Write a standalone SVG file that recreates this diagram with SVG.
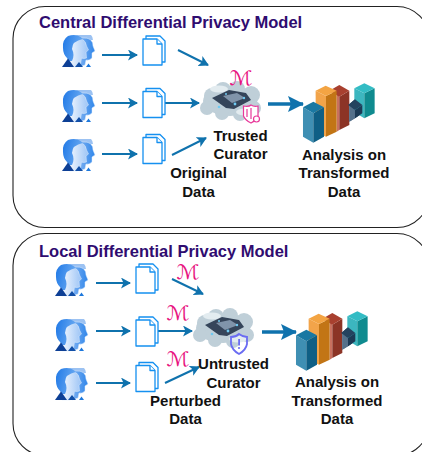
<svg xmlns="http://www.w3.org/2000/svg" width="422" height="452" viewBox="0 0 422 452">
<style>
.panel{fill:#fff;stroke:#222;stroke-width:1.1}
.title{font:bold 16.500px "Liberation Sans",Arial,sans-serif;fill:#2f0c70}
.lbl{font:bold 15px "Liberation Sans",Arial,sans-serif;fill:#111;text-anchor:middle}
.mm{font:italic 20px "DejaVu Serif","DejaVu Sans",serif;fill:#e8147f;text-anchor:middle}
.arr{stroke:#0f72ad;stroke-width:2;fill:none;marker-end:url(#ah)}
.arrb{stroke:#0f72ad;stroke-width:3.6;fill:none;marker-end:url(#ahb)}
.doc{fill:#fff;stroke:#1590f0;stroke-width:1.3;stroke-linejoin:round}
</style>
<defs>
<marker id="ah" markerUnits="userSpaceOnUse" markerWidth="12" markerHeight="12" refX="9" refY="5.500" orient="auto"><path d="M0 0L10 5.500L0 11L2.500 5.500Z" fill="#0f72ad"/></marker>
<marker id="ahb" markerUnits="userSpaceOnUse" markerWidth="18" markerHeight="18" refX="15" refY="8" orient="auto"><path d="M0 0L16 8L0 16L3 8Z" fill="#0f72ad"/></marker>
<linearGradient id="pa" x1="0" x2="1" y1="0" y2=".3"><stop offset="0" stop-color="#1f78e6"/><stop offset="1" stop-color="#6aaaf2"/></linearGradient>
<linearGradient id="pb" x1="0" x2="1" y1="0" y2="0"><stop offset="0" stop-color="#f2f7fe"/><stop offset="1" stop-color="#9cc4f6"/></linearGradient>
<linearGradient id="pc" x1="0" x2="1" y1="0" y2="0"><stop offset="0" stop-color="#8ab8f3"/><stop offset="1" stop-color="#2f86ea"/></linearGradient>
<filter id="soft" x="-10%" y="-10%" width="120%" height="120%"><feGaussianBlur stdDeviation=".6"/></filter>
<g id="person">
<path d="M14 1H29Q31 3 31 6L18 6Z" fill="#9cc2f2"/>
<path d="M20 4Q31 3 31 12L33 17L30 19L30 24Q27 27 24 26L23 31L17 33L14 4Z" fill="url(#pc)" stroke="#dfecfd" stroke-width=".5"/>
<path d="M11 5Q23 2 24.500 12L26.500 16L24 18L24.500 24Q21 25 19.500 24L18.500 30L15 33H7L8 12Z" fill="url(#pb)" stroke="#dfecfd" stroke-width=".5"/>
<path d="M6 2Q0 6 1 14Q1 20 5 24L7 27L10 27Q13 21 10 15Q10 7 21 5Q15 -1 6 2Z" fill="url(#pa)"/>
<path d="M0 33L6 24.500L12 33Z" fill="#0d3f95"/><path d="M13 33L17 28L21 33Z" fill="#114fa8"/><path d="M24 33L26.500 29.500L29 33Z" fill="#1d78dc"/>
</g>
<g id="docs">
<path class="doc" d="M3 0H17L22 5V26H3Z"/>
<path class="doc" d="M0 3H14L19 8V29H0Z"/>
<path class="doc" d="M14 3V8H19" fill="none"/>
</g>
<g id="cloud">
<g filter="url(#soft)" fill="#bfcfd8">
<ellipse cx="31" cy="20" rx="27" ry="15"/><circle cx="13" cy="15" r="8"/><circle cx="24" cy="9" r="8"/><circle cx="38" cy="8" r="8"/><circle cx="52" cy="14" r="9"/><circle cx="8" cy="27" r="7"/><circle cx="23" cy="32" r="7"/><circle cx="41" cy="33" r="7"/><circle cx="55" cy="27" r="7"/>
</g>
<ellipse cx="20" cy="8" rx="9" ry="3.500" fill="#e3ecf0" filter="url(#soft)"/>
<ellipse cx="46" cy="31" rx="9" ry="3.500" fill="#e3ecf0" filter="url(#soft)"/>
<path d="M13 17L30 9L47 12L52 19L35 28L27 27Z" fill="#34445a" filter="url(#soft)"/>
<path d="M24 15L38 12L46 17L33 22Z" fill="#8094aa" filter="url(#soft)"/>
<g fill="#6fcaf2"><circle cx="36" cy="23" r="1.400"/><circle cx="45" cy="17" r="1.200"/><circle cx="27" cy="13" r="1"/><circle cx="20" cy="26" r="1.300"/></g>
</g>
<g id="chart">
<path d="M470 122H478V240L470 245Z" fill="#c9705f"/>
<path d="M478 140L508 122V225L478 240Z" fill="#8c3426"/><path d="M448 122L478 105L508 122L478 140Z" fill="#a8402f"/>
<path d="M407 122L438 138V260L407 245Z" fill="#f2a44a"/><path d="M438 138L470 122V245L438 260Z" fill="#c27515"/><path d="M407 122L437 107L470 122L438 138Z" fill="#f3a443"/>
<path d="M369 172L400 190V278L369 260Z" fill="#3f8fb3"/><path d="M400 190L432 172V260L400 278Z" fill="#0f5f85"/><path d="M369 172L400 155L432 172L400 190Z" fill="#1a78a2"/>
<path d="M508 165L525 180V205L508 215Z" fill="#55708a"/><path d="M525 180L547 165V190L525 205Z" fill="#1d3a55"/><path d="M505 165L525 148L547 165L525 180Z" fill="#24435f"/>
<path d="M523 115L553 130V205L523 187Z" fill="#3cb6bf"/><path d="M553 130L584 115V190L553 205Z" fill="#0f8b8f"/><path d="M523 115L553 100L584 115L553 130Z" fill="#33bcc4"/>
<path d="M508 165L525 180V205L508 215Z" fill="#55708a"/><path d="M525 180L547 165V190L525 205Z" fill="#1d3a55"/><path d="M505 165L525 148L547 165L525 180Z" fill="#24435f"/>
</g>
</defs>

<g id="panel-central"><rect class="panel" x="13" y="6.500" width="416" height="221" rx="32" ry="32"/><text class="title" x="39" y="28">Central Differential Privacy Model</text></g>
<g id="panel-local"><rect class="panel" x="13" y="233.500" width="416" height="222" rx="32" ry="32"/><text class="title" x="39" y="257">Local Differential Privacy Model</text></g>

<g id="connectors">
<path class="arr" d="M102 55H137"/><path class="arr" d="M102 103H137"/><path class="arr" d="M102 154H137"/>
<path class="arr" d="M178 50L208 65"/><path class="arr" d="M165 103H199"/><path class="arr" d="M172 155L206 138"/>
<path class="arrb" d="M268 104H303"/>
<path class="arr" d="M96 283H130"/><path class="arr" d="M96 331H130"/><path class="arr" d="M96 383H130"/>
<path class="arr" d="M172 279L203 294"/><path class="arr" d="M158 331H192"/><path class="arr" d="M165 383L199 367"/>
<path class="arrb" d="M262 332H296"/>
</g>

<g id="users-central"><use href="#person" x="62" y="34"/><use href="#person" x="62" y="89"/><use href="#person" x="62" y="138"/></g>
<g id="docs-central"><use href="#docs" x="143" y="36"/><use href="#docs" x="143" y="88.500"/><use href="#docs" x="143" y="134.500"/></g>
<g id="curator-central"><use href="#cloud" x="199" y="81"/>
<text class="mm" x="241" y="85" textLength="23" lengthAdjust="spacingAndGlyphs">ℳ</text>
<g fill="#fff" stroke="#e8399a" stroke-width="1.200"><path d="M243.500 106Q249 107 251 105Q254 107 258 106V116Q257 120 251 123Q245 120 243.500 116Z"/><path d="M247 109V117M251 108V119" fill="none"/><circle cx="256.500" cy="119" r="3"/></g>
<text class="lbl" x="240.500" y="141">Trusted</text><text class="lbl" x="240.500" y="159">Curator</text></g>
<g id="data-central"><text class="lbl" x="198.500" y="178">Original</text><text class="lbl" x="198.500" y="197">Data</text></g>
<g id="chart-central"><use href="#chart" transform="translate(180,50) scale(.3333)"/>
<text class="lbl" x="344" y="160">Analysis on</text><text class="lbl" x="344" y="178">Transformed</text><text class="lbl" x="344" y="197">Data</text></g>

<g id="users-local"><use href="#person" x="55" y="263"/><use href="#person" x="55" y="318"/><use href="#person" x="55" y="367"/></g>
<g id="docs-local"><use href="#docs" x="136" y="264"/><use href="#docs" x="136" y="317"/><use href="#docs" x="136" y="362.500"/></g>
<g id="curator-local"><use href="#cloud" x="192" y="308"/>
<g fill="none" stroke="#6a6cf2" stroke-width="1.800"><path d="M231 337Q236 337 239 334Q243 337 247 337V344Q246 350 239 354Q232 350 231 344Z"/></g>
<rect x="238.200" y="339" width="1.800" height="6.500" fill="#6a6cf2"/><circle cx="239" cy="348" r="1.100" fill="#6a6cf2"/>
<text class="lbl" x="233.500" y="369">Untrusted</text><text class="lbl" x="233.500" y="388">Curator</text></g>
<g id="mech-local"><text class="mm" x="188" y="279" textLength="23" lengthAdjust="spacingAndGlyphs">ℳ</text><text class="mm" x="178" y="320" textLength="23" lengthAdjust="spacingAndGlyphs">ℳ</text><text class="mm" x="178" y="366" textLength="23" lengthAdjust="spacingAndGlyphs">ℳ</text></g>
<g id="data-local"><text class="lbl" x="185.500" y="405.500">Perturbed</text><text class="lbl" x="185.500" y="424">Data</text></g>
<g id="chart-local"><use href="#chart" transform="translate(173,278) scale(.3333)"/>
<text class="lbl" x="337" y="387">Analysis on</text><text class="lbl" x="337" y="405.500">Transformed</text><text class="lbl" x="337" y="424">Data</text></g>
</svg>
